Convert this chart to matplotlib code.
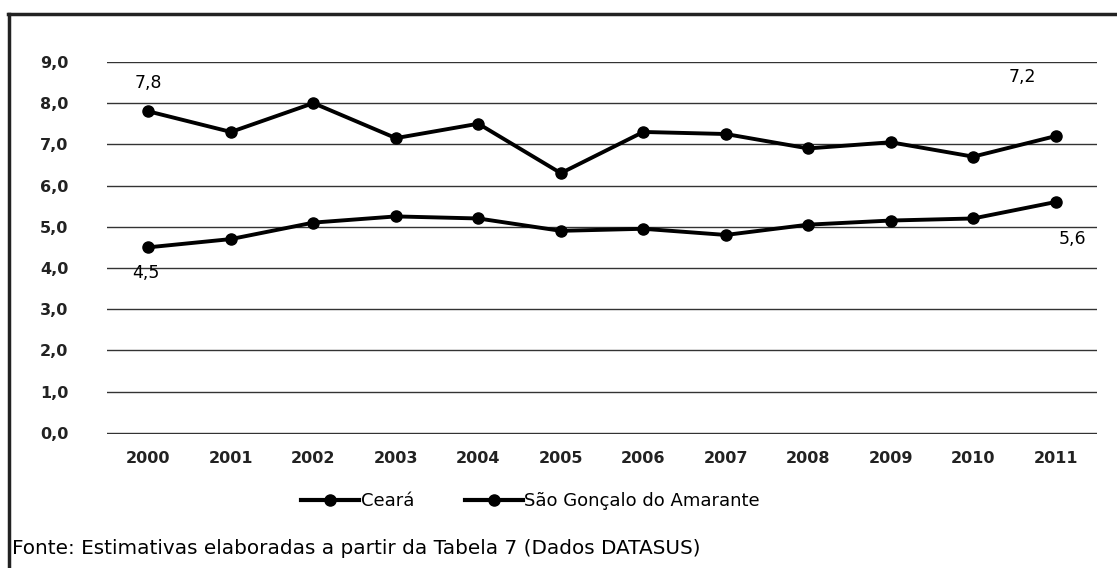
import matplotlib.pyplot as plt
from matplotlib.lines import Line2D

# dados
anos = ['2000', '2001', '2002', '2003', '2004', '2005',
        '2006', '2007', '2008', '2009', '2010', '2011']
ceara = [7.8, 7.3, 8.0, 7.15, 7.5, 6.3, 7.3, 7.25, 6.9, 7.05, 6.7, 7.2]
sao_goncalo = [4.5, 4.7, 5.1, 5.25, 5.2, 4.9, 4.95, 4.8, 5.05, 5.15, 5.2, 5.6]
rotulos_y = ['0,0', '1,0', '2,0', '3,0', '4,0', '5,0', '6,0', '7,0', '8,0', '9,0']

fig = plt.figure(figsize=(11.17, 5.68), dpi=100)
ax = fig.add_axes([0.096, 0.236, 0.886, 0.655])

x = list(range(len(anos)))
ax.plot(x, ceara, color='black', lw=2.8, marker='o', ms=8)
ax.plot(x, sao_goncalo, color='black', lw=2.8, marker='o', ms=8)

ax.set_xlim(-0.5, len(anos) - 0.5)
ax.set_ylim(-0.03, 9)
ax.set_yticks(range(10))
ax.set_yticklabels(rotulos_y)
ax.set_xticks(x)
ax.set_xticklabels(anos)
ax.tick_params(length=0, labelsize=11.5, pad=12)
ax.tick_params(axis='y', pad=28)
for lab in ax.get_xticklabels() + ax.get_yticklabels():
    lab.set_fontweight('semibold')
    lab.set_color('#222222')
ax.grid(axis='y', color='#333333', lw=1)
ax.set_axisbelow(True)
for s in ax.spines.values():
    s.set_visible(False)

# rótulos de dados
ax.annotate('7,8', (0, ceara[0]), xytext=(0, 14), textcoords='offset points',
            ha='center', va='bottom', fontsize=12.5)
ax.annotate('4,5', (0, sao_goncalo[0]), xytext=(-2, -12), textcoords='offset points',
            ha='center', va='top', fontsize=12.5)
ax.annotate('7,2', (11, ceara[11]), xytext=(-24, 36), textcoords='offset points',
            ha='center', va='bottom', fontsize=12.5)
ax.annotate('5,6', (11, sao_goncalo[11]), xytext=(12, -20), textcoords='offset points',
            ha='center', va='top', fontsize=12.5)

# legenda
itens = [Line2D([0], [0], color='black', lw=3, marker='o', ms=8),
         Line2D([0], [0], color='black', lw=3, marker='o', ms=8)]
fig.legend(itens, ['Ceará', 'São Gonçalo do Amarante'], loc='center',
           bbox_to_anchor=(0.475, 0.118), ncol=2, frameon=False, fontsize=13,
           handlelength=3.2, handletextpad=0.1, columnspacing=2.8)

fig.text(0.011, 0.035, 'Fonte: Estimativas elaboradas a partir da Tabela 7 (Dados DATASUS)',
         fontsize=14.4, ha='left', va='center')

# moldura (topo e esquerda)
fig.add_artist(Line2D([0.007, 1.0], [0.975, 0.975], color='#222222', lw=2.5))
fig.add_artist(Line2D([0.008, 0.008], [0.0, 0.975], color='#222222', lw=2.5))

fig.savefig('out.png', dpi=100)
